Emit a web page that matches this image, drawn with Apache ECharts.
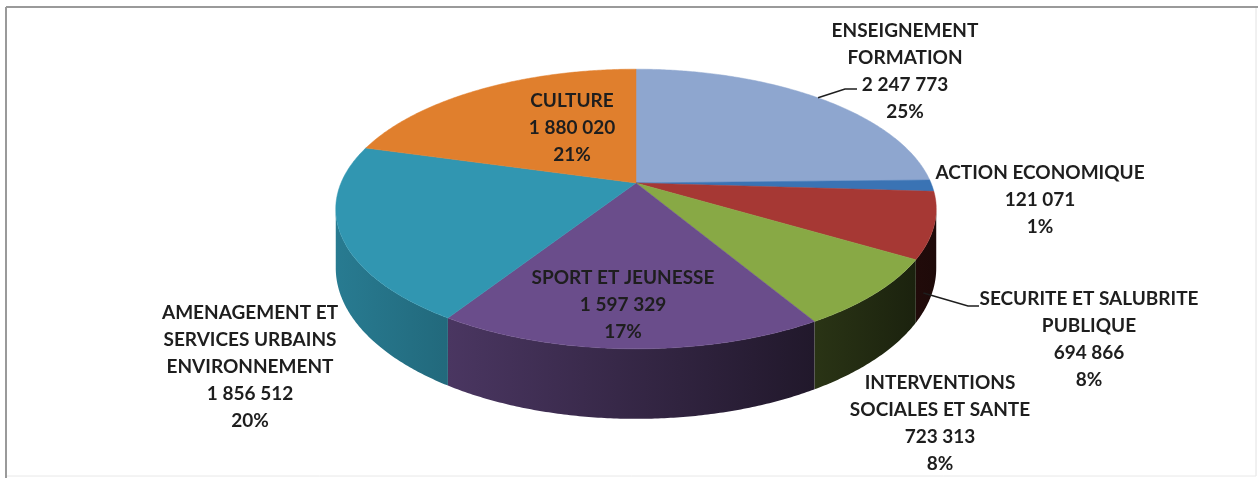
<!DOCTYPE html>
<html>
<head>
<meta charset="utf-8">
<script src="https://cdn.jsdelivr.net/npm/echarts@6/dist/echarts.min.js"></script>
<style>
html, body { margin: 0; padding: 0; background: #fff; }
#chart { width: 1259px; height: 479px; }
</style>
</head>
<body>
<div id="chart"></div>
<script>
// slices, clockwise from 12 o'clock
var categories = [
    'ENSEIGNEMENT\nFORMATION',
    'ACTION ECONOMIQUE',
    'SECURITE ET SALUBRITE\nPUBLIQUE',
    'INTERVENTIONS\nSOCIALES ET SANTE',
    'SPORT ET JEUNESSE',
    'AMENAGEMENT ET\nSERVICES URBAINS\nENVIRONNEMENT',
    'CULTURE'
];
var amounts = [2247773, 121071, 694866, 723313, 1597329, 1856512, 1880020];
var percents = [25, 1, 8, 8, 17, 20, 21];

var colors = ['#8EA6CF', '#3A73B4', '#A63834', '#88A945', '#6A4D8B', '#3196B1', '#E07F2D'];

// label placement (centre x, top y of the text block) and optional leader line
var labelLayout = [
    { x: 905, y: 17, anchor: [0.5, 0], elbow: [845, 89], end: [857, 89] },
    { x: 1040, y: 159 },
    { x: 1089, y: 285, anchor: [0.85, 0.7], elbow: [968, 306], end: [979, 306] },
    { x: 940, y: 369 },
    { x: 623, y: 264 },
    { x: 250, y: 299 },
    { x: 572, y: 87 }
];

var total = amounts.reduce(function(a, b) { return a + b; }, 0);
var seriesData = [];
var acc = 0;
amounts.forEach(function(v, i) {
    seriesData.push({ name: categories[i], value: [v, acc] });
    acc += v;
});

// fake 3d projection of the disc
var cx = 636, cy = 183, sx = 295, sy = 135, k = 0.186, depth = 57;
var visLo = Math.PI / 2 + Math.asin(k), visHi = 3 * Math.PI / 2 - Math.asin(k);

function project(a, h) {
    var X = Math.sin(a), Z = Math.cos(a), w = 1 + k * Z;
    return [cx + X * sx / w, cy + (-Z * sy + h * depth) / w];
}

function shade(hex, f) {
    var n = parseInt(hex.slice(1), 16);
    var r = Math.round(((n >> 16) & 255) * f), g = Math.round(((n >> 8) & 255) * f), b = Math.round((n & 255) * f);
    return 'rgb(' + r + ',' + g + ',' + b + ')';
}
function light(x) {
    var f = 0.5 - 0.32 * (x - cx) / 300;
    return Math.max(0.15, Math.min(0.86, f));
}
function fmt(v) {
    return String(v).replace(/\B(?=(\d{3})+(?!\d))/g, ' ');
}

function renderItem(params, api) {
    var i = params.dataIndex;
    var a0 = api.value(1) / total * Math.PI * 2;
    var a1 = (api.value(1) + api.value(0)) / total * Math.PI * 2;
    var children = [];
    var step = Math.PI / 360;

    // outer wall, front part only
    var lo = Math.max(a0, visLo), hi = Math.min(a1, visHi);
    if (hi > lo) {
        var pts = [], a;
        for (a = lo; a < hi; a += step) pts.push(project(a, 0));
        pts.push(project(hi, 0));
        for (a = hi; a > lo; a -= step) pts.push(project(a, 1));
        pts.push(project(lo, 1));
        var xs = pts.map(function(p) { return p[0]; });
        var xmin = Math.min.apply(null, xs), xmax = Math.max.apply(null, xs);
        children.push({
            type: 'polygon',
            z2: 1,
            shape: { points: pts },
            style: {
                fill: new echarts.graphic.LinearGradient(xmin, 0, xmax, 0, [
                    { offset: 0, color: shade(colors[i], light(xmin)) },
                    { offset: 1, color: shade(colors[i], light(xmax)) }
                ], true)
            }
        });
    }

    // top face
    var top = [[cx, cy]];
    for (var b = a0; b < a1; b += step) top.push(project(b, 0));
    top.push(project(a1, 0));
    children.push({
        type: 'polygon',
        z2: 10,
        shape: { points: top },
        style: { fill: colors[i], stroke: colors[i], lineWidth: 0.5 }
    });

    // label
    var lay = labelLayout[i];
    children.push({
        type: 'text',
        z2: 20,
        style: {
            text: categories[i] + '\n' + fmt(api.value(0)) + '\n' + percents[i] + '%',
            x: lay.x,
            y: lay.y,
            align: 'center',
            verticalAlign: 'top',
            font: 'bold 19px Lato',
            lineHeight: 27,
            fill: '#1e1e1e'
        }
    });
    if (lay.anchor) {
        var am = a0 + (a1 - a0) * lay.anchor[0];
        children.push({
            type: 'polyline',
            z2: 20,
            shape: { points: [project(am, lay.anchor[1]), lay.elbow, lay.end] },
            style: { stroke: '#1e1e1e', lineWidth: 1.5, fill: null }
        });
    }
    return { type: 'group', children: children };
}

var option = {
    animation: false,
    graphic: [
        { type: 'line', shape: { x1: 6, y1: 7, x2: 1258, y2: 7 }, style: { stroke: '#9a9a9a', lineWidth: 2 } },
        { type: 'line', shape: { x1: 6, y1: 7, x2: 6, y2: 478 }, style: { stroke: '#9a9a9a', lineWidth: 2 } },
        { type: 'line', shape: { x1: 1256, y1: 8, x2: 1256, y2: 476 }, style: { stroke: '#e2e2e2', lineWidth: 1 } },
        { type: 'line', shape: { x1: 7, y1: 476, x2: 1256, y2: 476 }, style: { stroke: '#e8e8e8', lineWidth: 1 } }
    ],
    series: [{
        type: 'custom',
        coordinateSystem: 'none',
        renderItem: renderItem,
        data: seriesData
    }]
};

var myChart = echarts.init(document.getElementById('chart'));
myChart.setOption(option);
</script>
</body>
</html>
